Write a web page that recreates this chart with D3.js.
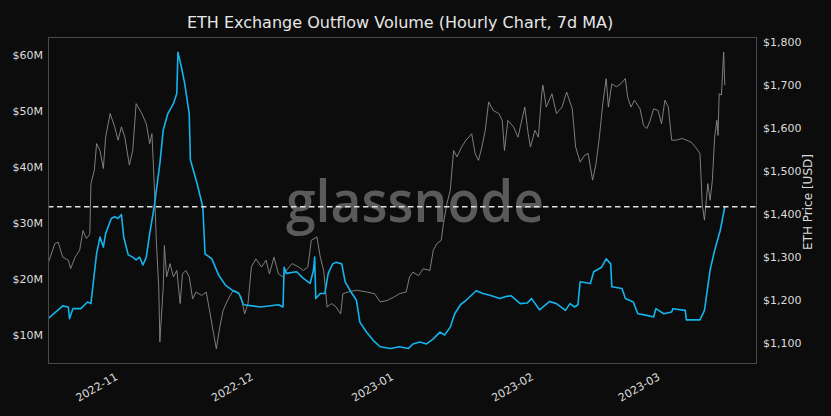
<!DOCTYPE html>
<html>
<head>
<meta charset="utf-8">
<script src="https://cdn.jsdelivr.net/npm/d3@7"></script>
<style>
  html, body { margin: 0; padding: 0; background: #0c0c0c; }
  svg { display: block; }
</style>
</head>
<body>
<div id="chartRoot"></div>
<script>
// ETH exchange outflow volume (7d MA, USD millions)
var outflowDates = [
  "2022-10-16T12","2022-10-18T18","2022-10-19T18","2022-10-21T00","2022-10-21T06","2022-10-22T00","2022-10-23T18",
  "2022-10-25T06","2022-10-26T00","2022-10-26T12","2022-10-27T06","2022-10-28T00","2022-10-28T18","2022-10-29T06",
  "2022-10-30T12","2022-10-31T06","2022-11-01T00","2022-11-01T18","2022-11-02T06","2022-11-03T06","2022-11-04T06",
  "2022-11-05T00","2022-11-05T18","2022-11-06T12","2022-11-07T06","2022-11-08T00","2022-11-09T00","2022-11-10T06",
  "2022-11-11T00","2022-11-12T00","2022-11-13T06","2022-11-14T00","2022-11-14T06","2022-11-15T00","2022-11-15T18",
  "2022-11-16T18","2022-11-17T00","2022-11-18T12","2022-11-19T18","2022-11-20T06","2022-11-21T18","2022-11-23T06",
  "2022-11-24T18","2022-11-26T06","2022-11-27T18","2022-11-28T18","2022-12-02T12","2022-12-06T12","2022-12-07T12",
  "2022-12-07T18","2022-12-08T06","2022-12-10T12","2022-12-12T00","2022-12-13T12","2022-12-14T06","2022-12-14T12",
  "2022-12-14T18","2022-12-15T18","2022-12-16T18","2022-12-17T12","2022-12-18T12","2022-12-19T06","2022-12-20T12",
  "2022-12-21T06","2022-12-22T18","2022-12-23T18","2022-12-24T12","2022-12-26T00","2022-12-27T12","2022-12-29T00",
  "2022-12-31T06","2023-01-02T06","2023-01-04T06","2023-01-05T06","2023-01-06T18","2023-01-08T06","2023-01-09T18",
  "2023-01-11T06","2023-01-12T06","2023-01-13T12","2023-01-14T12","2023-01-15T18","2023-01-17T00","2023-01-19T06",
  "2023-01-20T18","2023-01-22T06","2023-01-24T12","2023-01-26T00","2023-01-27T00","2023-01-29T00","2023-01-30T12",
  "2023-01-31T12","2023-02-02T06","2023-02-04T12","2023-02-06T00","2023-02-08T00","2023-02-09T00","2023-02-10T00",
  "2023-02-10T18","2023-02-11T06","2023-02-13T12","2023-02-14T06","2023-02-16T00","2023-02-17T00","2023-02-18T00",
  "2023-02-18T06","2023-02-20T12","2023-02-21T06","2023-02-23T00","2023-02-24T00","2023-02-26T00","2023-02-27T12",
  "2023-02-28T00","2023-03-01T18","2023-03-03T12","2023-03-03T18","2023-03-06T12","2023-03-06T18","2023-03-09T18",
  "2023-03-10T18","2023-03-12T00","2023-03-13T00","2023-03-14T06","2023-03-15T06"
];
var outflowValues = [
  12.9, 14.5, 15.2, 15.0, 12.9, 14.7, 14.7,
  15.9, 15.6, 19.2, 24.5, 27.5, 25.7, 28.1,
  30.8, 31.1, 30.8, 31.5, 27.5, 24.3, 23.9,
  23.4, 23.9, 22.5, 23.9, 28.1, 32.9, 40.6,
  46.6, 49.5, 51.3, 53.1, 60.5, 57.9, 54.9,
  49.5, 41.3, 37.0, 32.9, 24.5, 23.6, 20.7,
  18.9, 18.0, 17.4, 15.4, 15.0, 15.4, 15.0,
  22.1, 21.0, 21.3, 20.1, 19.2, 21.6, 23.9,
  16.5, 17.4, 17.4, 21.0, 22.7, 23.0, 22.7,
  19.5, 17.4, 16.2, 12.3, 10.5, 9.0, 7.9,
  7.6, 7.9, 7.6, 8.4, 8.75, 8.4, 9.3,
  10.5, 10.0, 11.4, 13.8, 15.4, 16.2, 17.9,
  17.4, 17.1, 16.5, 16.9, 17.0, 15.6, 15.7,
  16.5, 14.5, 16.0, 15.6, 14.4, 15.6, 15.0,
  15.4, 19.5, 19.2, 21.3, 22.1, 23.6, 22.7,
  18.6, 18.3, 16.5, 15.9, 13.8, 13.5, 13.2,
  14.7, 13.8, 14.1, 14.7, 14.4, 12.7, 12.7,
  14.4, 21.6, 25.1, 28.7, 32.9
];

// ETH price (USD)
var priceDates = [
  "2022-10-16T12","2022-10-18T00","2022-10-18T18","2022-10-19T18","2022-10-21T00","2022-10-21T12","2022-10-22T12",
  "2022-10-23T12","2022-10-24T06","2022-10-25T00","2022-10-25T18","2022-10-26T00","2022-10-26T18","2022-10-27T06",
  "2022-10-28T00","2022-10-28T18","2022-10-29T06","2022-10-30T06","2022-10-31T06","2022-11-01T00","2022-11-01T18",
  "2022-11-02T12","2022-11-03T12","2022-11-04T06","2022-11-05T00","2022-11-06T06","2022-11-07T06","2022-11-08T00",
  "2022-11-08T12","2022-11-09T00","2022-11-09T12","2022-11-10T00","2022-11-10T06","2022-11-11T00","2022-11-11T06",
  "2022-11-11T18","2022-11-12T12","2022-11-13T06","2022-11-14T00","2022-11-14T18","2022-11-15T06","2022-11-16T00",
  "2022-11-16T18","2022-11-17T12","2022-11-18T06","2022-11-19T12","2022-11-20T12","2022-11-21T06","2022-11-22T00",
  "2022-11-22T18","2022-11-23T12","2022-11-24T06","2022-11-25T06","2022-11-26T12","2022-11-27T12","2022-11-28T06",
  "2022-11-29T00","2022-11-29T18","2022-11-30T12","2022-12-01T12","2022-12-02T18","2022-12-03T18","2022-12-04T12",
  "2022-12-05T12","2022-12-06T12","2022-12-07T12","2022-12-08T06","2022-12-09T12","2022-12-11T00","2022-12-12T00",
  "2022-12-13T00","2022-12-13T18","2022-12-15T00","2022-12-15T18","2022-12-16T12","2022-12-17T06","2022-12-18T06",
  "2022-12-19T06","2022-12-20T06","2022-12-20T18","2022-12-22T00","2022-12-23T18","2022-12-26T00","2022-12-27T18",
  "2022-12-29T00","2022-12-30T12","2023-01-01T00","2023-01-02T06","2023-01-03T18","2023-01-04T12","2023-01-05T06",
  "2023-01-06T12","2023-01-07T12","2023-01-09T00","2023-01-09T18","2023-01-10T12","2023-01-11T12","2023-01-12T00",
  "2023-01-12T18","2023-01-13T12","2023-01-14T06","2023-01-15T00","2023-01-16T00","2023-01-17T00","2023-01-18T06",
  "2023-01-19T00","2023-01-19T18","2023-01-20T12","2023-01-21T06","2023-01-22T00","2023-01-23T00","2023-01-24T06",
  "2023-01-25T00","2023-01-25T12","2023-01-26T06","2023-01-27T12","2023-01-28T12","2023-01-29T00","2023-01-30T00",
  "2023-01-30T18","2023-01-31T06","2023-02-01T06","2023-02-02T00","2023-02-02T18","2023-02-03T00","2023-02-03T18",
  "2023-02-05T00","2023-02-06T00","2023-02-07T06","2023-02-08T06","2023-02-09T12","2023-02-10T06","2023-02-11T06",
  "2023-02-12T06","2023-02-13T00","2023-02-14T00","2023-02-14T18","2023-02-15T12","2023-02-16T06","2023-02-17T00",
  "2023-02-17T12","2023-02-18T06","2023-02-19T06","2023-02-20T06","2023-02-21T06","2023-02-21T18","2023-02-22T12",
  "2023-02-23T06","2023-02-24T12","2023-02-25T06","2023-02-26T00","2023-02-26T18","2023-02-27T12","2023-02-28T12",
  "2023-03-01T06","2023-03-02T00","2023-03-02T18","2023-03-03T12","2023-03-04T12","2023-03-05T18","2023-03-06T18",
  "2023-03-07T18","2023-03-08T18","2023-03-09T18","2023-03-10T00","2023-03-10T06","2023-03-10T18","2023-03-11T12",
  "2023-03-12T00","2023-03-12T12","2023-03-13T00","2023-03-13T12","2023-03-13T18","2023-03-14T00","2023-03-14T12",
  "2023-03-15T00","2023-03-15T06"
];
var priceValues = [
  1284, 1330, 1334, 1299, 1292, 1272, 1299,
  1315, 1361, 1342, 1353, 1470, 1501, 1563,
  1547, 1505, 1578, 1633, 1602, 1571, 1602,
  1578, 1513, 1547, 1656, 1633, 1609, 1563,
  1586, 1470, 1330, 1230, 1102, 1230, 1326,
  1253, 1284, 1253, 1268, 1191, 1260, 1268,
  1253, 1202, 1218, 1210, 1218, 1175, 1129,
  1086, 1136, 1175, 1199, 1222, 1218, 1206,
  1167, 1191, 1276, 1295, 1276, 1292, 1260,
  1299, 1260, 1253, 1268, 1284, 1276, 1268,
  1276, 1338, 1346, 1299, 1268, 1183, 1191,
  1183, 1167, 1214, 1218, 1222, 1218, 1214,
  1195, 1198, 1206, 1214, 1218, 1253, 1264,
  1256, 1272, 1268, 1315, 1330, 1338, 1377,
  1423, 1454, 1547, 1532, 1555, 1571, 1586,
  1540, 1524, 1555, 1594, 1660, 1640, 1633,
  1617, 1547, 1617, 1602, 1578, 1602, 1648,
  1586, 1555, 1594, 1578, 1679, 1699, 1648,
  1679, 1633, 1648, 1683, 1644, 1555, 1520,
  1536, 1540, 1478, 1516, 1578, 1656, 1714,
  1648, 1702, 1695, 1702, 1714, 1671, 1648,
  1664, 1644, 1606, 1598, 1617, 1644, 1640,
  1609, 1664, 1648, 1571, 1571, 1575, 1571,
  1567, 1555, 1540, 1485, 1423, 1385, 1470,
  1431, 1478, 1578, 1617, 1582, 1679, 1676,
  1776, 1699
];

var outflowTicks = [10, 20, 30, 40, 50, 60];
var priceTicks = [1100, 1200, 1300, 1400, 1500, 1600, 1700, 1800];
var monthTicks = ["2022-11-01T00","2022-12-01T00","2023-01-01T00","2023-02-01T00","2023-03-01T00"];

var chartTitle = "ETH Exchange Outflow Volume (Hourly Chart, 7d MA)";
var rightLabel = "ETH Price [USD]";

makeChart();

function makeChart() {
    var width = 831, height = 416;
    var margin = {top: 37, right: 74, bottom: 52, left: 48};
    var parse = d3.timeParse("%Y-%m-%dT%H");

    var outflow = outflowDates.map(function(d, i) { return {t: parse(d), v: outflowValues[i]}; });
    var price = priceDates.map(function(d, i) { return {t: parse(d), v: priceValues[i]}; });

    var svg = d3.select("#chartRoot").append("svg")
        .attr("width", width)
        .attr("height", height)
        .style("background", "#0c0c0c")
        .style("font-family", "'DejaVu Sans', sans-serif");

    var x = d3.scaleTime()
        .domain([parse("2022-10-16T12"), parse("2023-03-22T09")])
        .range([margin.left, width - margin.right]);
    var yLeft = d3.scaleLinear()
        .domain([4.82, 63.21])
        .range([height - margin.bottom, margin.top]);
    var yRight = d3.scaleLinear()
        .domain([1050.5, 1810.9])
        .range([height - margin.bottom, margin.top]);

    // title
    svg.append("text")
        .attr("x", 400)
        .attr("y", 28)
        .attr("text-anchor", "middle")
        .attr("fill", "#e6e6e6")
        .style("font-size", "16px")
        .text(chartTitle);

    // watermark
    svg.append("text")
        .attr("x", 415)
        .attr("y", 222)
        .attr("text-anchor", "middle")
        .attr("fill", "#5a5a5a")
        .attr("textLength", 258)
        .attr("lengthAdjust", "spacingAndGlyphs")
        .style("font-family", "'Open Sans', sans-serif")
        .style("font-size", "58px")
        .style("font-weight", "600")
        .text("glassnode");

    svg.append("clipPath").attr("id", "plotClip")
        .append("rect")
        .attr("x", margin.left).attr("y", margin.top)
        .attr("width", width - margin.left - margin.right)
        .attr("height", height - margin.top - margin.bottom);

    var g = svg.append("g").attr("clip-path", "url(#plotClip)");

    var priceLine = d3.line()
        .x(function(d) { return x(d.t); })
        .y(function(d) { return yRight(d.v); });
    var outflowLine = d3.line()
        .x(function(d) { return x(d.t); })
        .y(function(d) { return yLeft(d.v); });

    g.append("path")
        .datum(price)
        .attr("fill", "none")
        .attr("stroke", "#8a8a8a")
        .attr("stroke-width", 0.9)
        .attr("d", priceLine);

    g.append("path")
        .datum(outflow)
        .attr("fill", "none")
        .attr("stroke", "#14b4ef")
        .attr("stroke-width", 1.6)
        .attr("stroke-linejoin", "round")
        .attr("d", outflowLine);

    // dashed line at latest outflow value
    var last = outflow[outflow.length - 1].v;
    g.append("line")
        .attr("x1", margin.left)
        .attr("x2", width - margin.right)
        .attr("y1", yLeft(last))
        .attr("y2", yLeft(last))
        .attr("stroke", "#e0e0e0")
        .attr("stroke-width", 1.5)
        .attr("stroke-dasharray", "5.5,3.5");

    // frame
    svg.append("rect")
        .attr("x", margin.left + 0.5)
        .attr("y", margin.top + 0.5)
        .attr("width", width - margin.left - margin.right - 1)
        .attr("height", height - margin.top - margin.bottom - 1)
        .attr("fill", "none")
        .attr("stroke", "#4a4a4a")
        .attr("stroke-width", 1);

    // left axis
    var axL = svg.append("g")
        .attr("transform", "translate(" + margin.left + ",0)")
        .call(d3.axisLeft(yLeft)
            .tickValues(outflowTicks)
            .tickSize(0)
            .tickPadding(5)
            .tickFormat(function(d) { return "$" + d + "M"; }));
    // right axis
    var axR = svg.append("g")
        .attr("transform", "translate(" + (width - margin.right) + ",0)")
        .call(d3.axisRight(yRight)
            .tickValues(priceTicks)
            .tickSize(0)
            .tickPadding(6)
            .tickFormat(function(d) { return "$" + d3.format(",")(d); }));
    // bottom axis
    var axB = svg.append("g")
        .attr("transform", "translate(0," + (height - margin.bottom) + ")")
        .call(d3.axisBottom(x)
            .tickValues(monthTicks.map(parse))
            .tickSize(0)
            .tickFormat(d3.timeFormat("%Y-%m")));

    [axL, axR, axB].forEach(function(ax) {
        ax.select(".domain").remove();
        ax.selectAll("text")
            .attr("fill", "#dcdcdc")
            .style("font-family", "'DejaVu Sans', sans-serif")
            .style("font-size", "11px");
    });

    axB.selectAll("text")
        .attr("text-anchor", "end")
        .attr("y", 0)
        .attr("dy", 0)
        .attr("transform", "translate(0,15) rotate(-30)");

    svg.append("text")
        .attr("transform", "translate(812," + 202 + ") rotate(-90)")
        .attr("text-anchor", "middle")
        .attr("fill", "#dcdcdc")
        .style("font-size", "12px")
        .text(rightLabel);
}
</script>
</body>
</html>
